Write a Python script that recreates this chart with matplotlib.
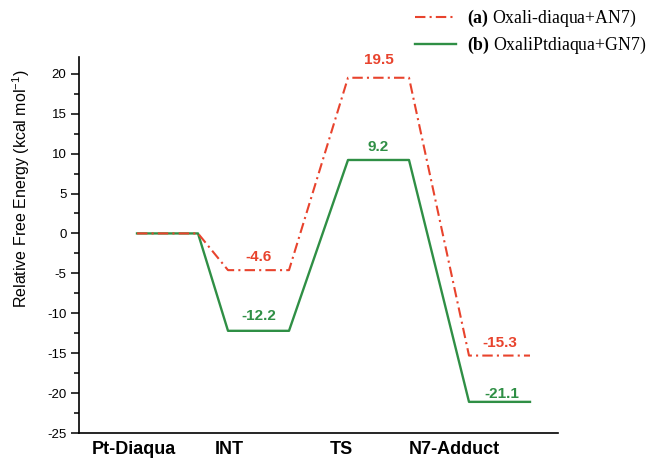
import matplotlib
matplotlib.use("Agg")
import matplotlib.pyplot as plt
from matplotlib.ticker import MultipleLocator

# ---- data ----
states = ["Pt-Diaqua", "INT", "TS", "N7-Adduct"]
energy_a = [0.0, -4.6, 19.5, -15.3]   # (a) Oxali-diaqua+AN7
energy_b = [0.0, -12.2, 9.2, -21.1]   # (b) OxaliPtdiaqua+GN7
label_a = r"$\mathbf{(a)}$ Oxali-diaqua+AN7)"
label_b = r"$\mathbf{(b)}$ OxaliPtdiaqua+GN7)"

# ---- layout (x in axis units) ----
plateau_left = [58, 149, 269, 390]
plateau_width = 61
tick_pos = [55, 150, 262, 375]

plt.rcParams["mathtext.fontset"] = "custom"
plt.rcParams["mathtext.rm"] = "Liberation Serif"
plt.rcParams["mathtext.bf"] = "Liberation Serif:bold"
plt.rcParams["font.family"] = ["Liberation Sans", "DejaVu Sans"]
plt.rcParams["axes.unicode_minus"] = False

RED = "#e8432d"
GREEN = "#2f8f45"

fig = plt.figure(figsize=(6.53, 4.61), dpi=100)
W, H = 653, 461
ax = fig.add_axes([79 / W, (H - 433) / H, (558 - 79) / W, (433 - 57) / H])


def path(energies):
    xs, ys = [], []
    for l, e in zip(plateau_left, energies):
        xs += [l, l + plateau_width]
        ys += [e, e]
    return xs, ys


xa, ya = path(energy_a)
xb, yb = path(energy_b)
la, = ax.plot(xa, ya, color=RED, lw=1.5, dashes=(5, 2, 1, 2), label=label_a, zorder=3)
lb, = ax.plot(xb, yb, color=GREEN, lw=1.7, label=label_b, zorder=2)

offs_a = [None, 6, 11, 6]
offs_b = [None, 8, 6, 1]
for i in range(1, len(states)):
    cx = plateau_left[i] + plateau_width / 2
    ax.annotate(f"{energy_a[i]:.1f}", (cx, energy_a[i]), xytext=(0, offs_a[i]),
                textcoords="offset pixels", ha="center", va="bottom",
                color=RED, fontsize=11, fontweight="bold")
    ax.annotate(f"{energy_b[i]:.1f}", (cx + (2 if i == 3 else 0), energy_b[i]),
                xytext=(0, offs_b[i]), textcoords="offset pixels", ha="center",
                va="bottom", color=GREEN, fontsize=11, fontweight="bold")

ax.set_xlim(0, 479)
ax.set_ylim(-25, 22.1)
ax.set_xticks(tick_pos)
ax.set_xticklabels(states, fontsize=13, fontweight="bold")
ax.tick_params(axis="x", length=0, pad=6)
ax.yaxis.set_major_locator(MultipleLocator(5))
ax.yaxis.set_minor_locator(MultipleLocator(2.5))
ax.tick_params(axis="y", which="major", direction="out", length=6, width=1.1, labelsize=9.5, pad=3)
ax.tick_params(axis="y", which="minor", direction="out", length=3.5, width=1.1)
for s in ["top", "right"]:
    ax.spines[s].set_visible(False)
for s in ["left", "bottom"]:
    ax.spines[s].set_linewidth(1.2)

ax.set_ylabel(r"Relative Free Energy (kcal mol$\mathregular{^{-1}}$)", fontsize=11.5)
ax.yaxis.set_label_coords(-47 / 479, 0.65)

fig.legend(handles=[la, lb], loc="upper left", bbox_to_anchor=(415 / W, 1 - 8 / H),
           frameon=False, prop={"family": "Liberation Serif", "size": 12.8},
           borderpad=0, borderaxespad=0, handlelength=2.3, handletextpad=0.65,
           labelspacing=0.35)

fig.savefig("out.png", dpi=100)
